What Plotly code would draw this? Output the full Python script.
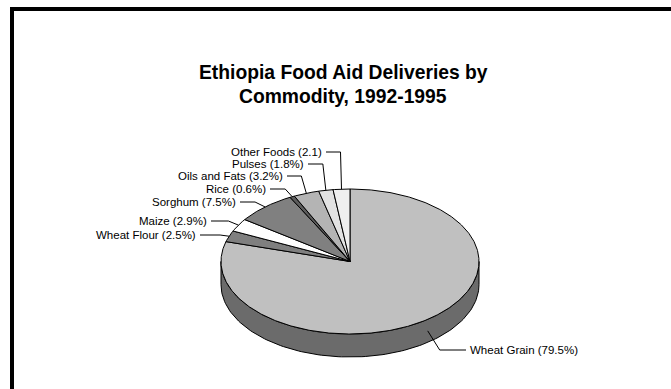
import numpy as np
import plotly.graph_objects as go

# ---------------- data ----------------
commodities = ["Wheat Grain", "Wheat Flour", "Maize", "Sorghum", "Rice",
               "Oils and Fats", "Pulses", "Other Foods"]
shares = [79.5, 2.5, 2.9, 7.5, 0.6, 3.2, 1.8, 2.1]
label_texts = ["Wheat Grain (79.5%)", "Wheat Flour (2.5%)", "Maize (2.9%)",
               "Sorghum (7.5%)", "Rice (0.6%)", "Oils and Fats (3.2%)",
               "Pulses (1.8%)", "Other Foods (2.1)"]
title_lines = ["Ethiopia Food Aid Deliveries by", "Commodity, 1992-1995"]

# ---------------- styles / layout ----------------
top_colors = ["#c0c0c0", "#7f7f7f", "#ffffff", "#808080", "#5c5c5c",
              "#b4b4b4", "#e2e2e2", "#efefef"]
side_colors = ["#6b6b6b", "#4a4a4a", "#bdbdbd", "#4d4d4d", "#3a3a3a",
               "#7a7a7a", "#9a9a9a", "#a4a4a4"]
W, H = 671, 389
CX, CY, RX, RY, DEPTH = 350, 261.5, 129, 72.5, 23
# label text anchor (x, y, side) and leader elbow offset
label_pos = [(469, 350, "left"), (197, 235, "right"), (208, 221, "right"),
             (237, 202, "right"), (267, 189, "right"), (284, 176, "right"),
             (305, 164, "right"), (323, 152, "right")]
elbow_dx = [-12, 9, 10, 10, 7, 5, 3, 1]
FONT = "Liberation Sans, Arial, sans-serif"


def ell(theta_deg, dy=0.0):
    t = np.radians(theta_deg)
    return CX + RX * np.sin(t), CY - RY * np.cos(t) + dy


total = sum(shares)
bounds = np.concatenate([[0], np.cumsum(shares)]) / total * 360.0

fig = go.Figure()

# side (depth) walls, visible for angles between 90 and 270
for i in range(len(shares)):
    a0, a1 = max(bounds[i], 90), min(bounds[i + 1], 270)
    if a1 <= a0:
        continue
    th = np.linspace(a0, a1, 120)
    xt, yt = ell(th)
    xb, yb = ell(th[::-1], DEPTH)
    xs = np.concatenate([xt, xb, xt[:1]])
    ys = np.concatenate([yt, yb, yt[:1]])
    fig.add_trace(go.Scatter(x=xs, y=ys, mode="lines", fill="toself",
                             fillcolor=side_colors[i],
                             line=dict(color="black", width=1),
                             hoverinfo="skip", showlegend=False))

# top sectors
for i in range(len(shares)):
    a0, a1 = bounds[i], bounds[i + 1]
    n = max(int((a1 - a0) * 2), 4)
    th = np.linspace(a0, a1, n)
    xa, ya = ell(th)
    xs = np.concatenate([[CX], xa, [CX]])
    ys = np.concatenate([[CY], ya, [CY]])
    fig.add_trace(go.Scatter(x=xs, y=ys, mode="lines", fill="toself",
                             fillcolor=top_colors[i],
                             line=dict(color="black", width=1),
                             name=commodities[i], hoverinfo="name",
                             showlegend=False))

# labels with elbow leader lines
annotations = []
for i in range(len(shares)):
    mid = (bounds[i] + bounds[i + 1]) / 2
    front = np.cos(np.radians(mid)) < 0
    ax_, ay_ = ell(mid, DEPTH / 2 if front else 0)
    lx, ly, side = label_pos[i]
    ex = ax_ - elbow_dx[i]
    sx = lx + 3 if side == "right" else lx - 3
    fig.add_trace(go.Scatter(x=[sx, ex, ax_], y=[ly, ly, ay_], mode="lines",
                             line=dict(color="black", width=1),
                             hoverinfo="skip", showlegend=False))
    annotations.append(dict(x=lx, y=ly, xref="x", yref="y", text=label_texts[i],
                            showarrow=False, xanchor=side, yanchor="middle",
                            borderpad=0,
                            font=dict(family=FONT, size=11.5, color="black")))

for k, (t, yy) in enumerate(zip(title_lines, [72, 96])):
    annotations.append(dict(x=343, y=yy, xref="x", yref="y", text="<b>%s</b>" % t,
                            showarrow=False, xanchor="center", yanchor="middle",
                            font=dict(family=FONT, size=19.3, color="black")))

fig.update_layout(
    width=W, height=H,
    margin=dict(l=0, r=0, t=0, b=0, pad=0),
    paper_bgcolor="white", plot_bgcolor="white",
    xaxis=dict(range=[0, W], visible=False, fixedrange=True),
    yaxis=dict(range=[H, 0], visible=False, fixedrange=True),
    annotations=annotations,
    shapes=[
        dict(type="line", xref="paper", yref="paper", x0=12 / W, y0=1 - 7 / H,
             x1=12 / W, y1=0, line=dict(color="black", width=4), layer="above"),
        dict(type="line", xref="paper", yref="paper", x0=10 / W, y0=1 - 9 / H,
             x1=1.02, y1=1 - 9 / H, line=dict(color="black", width=4), layer="above"),
    ],
)

fig.write_html("out.html", config={"displayModeBar": False})
